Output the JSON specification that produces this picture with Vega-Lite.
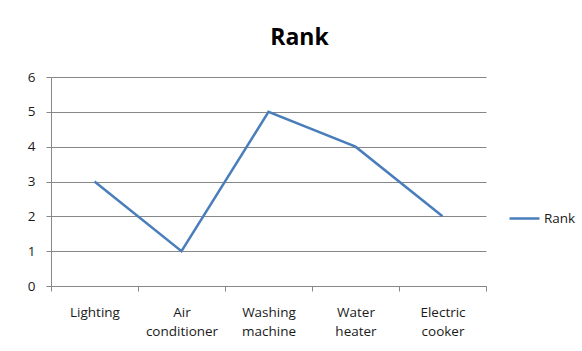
{
  "$schema": "https://vega.github.io/schema/vega-lite/v6.json",
  "width": 435,
  "height": 209,
  "autosize": {"type": "none"},
  "padding": {"left": 51, "top": 77, "right": 96, "bottom": 65},
  "background": "white",
  "title": {
    "text": "Rank",
    "anchor": "middle",
    "frame": "group",
    "dx": 31,
    "offset": 20,
    "font": "Open Sans",
    "fontSize": 23,
    "fontWeight": "bold",
    "color": "#000000"
  },
  "data": {
    "values": [
      {"appliance": "Lighting", "rank": 3},
      {"appliance": "Air conditioner", "rank": 1},
      {"appliance": "Washing machine", "rank": 5},
      {"appliance": "Water heater", "rank": 4},
      {"appliance": "Electric cooker", "rank": 2}
    ]
  },
  "mark": {"type": "line", "strokeWidth": 2.5, "strokeCap": "butt", "strokeJoin": "miter"},
  "encoding": {
    "x": {
      "field": "appliance",
      "type": "nominal",
      "sort": null,
      "scale": {"type": "band", "paddingInner": 0, "paddingOuter": 0},
      "axis": {
        "title": null,
        "labelAngle": 0,
        "labelExpr": "split(datum.label, ' ')",
        "labelLineHeight": 19,
        "labelPadding": 14,
        "labelFont": "Open Sans",
        "labelFontSize": 13.5,
        "labelColor": "#1a1a1a",
        "tickBand": "extent",
        "tickSize": 5,
        "tickColor": "#878787",
        "domainColor": "#878787",
        "grid": false
      }
    },
    "y": {
      "field": "rank",
      "type": "quantitative",
      "scale": {"domain": [0, 6], "nice": false},
      "axis": {
        "title": null,
        "values": [0, 1, 2, 3, 4, 5, 6],
        "tickSize": 5,
        "labelPadding": 11,
        "labelFont": "Open Sans",
        "labelFontSize": 13.5,
        "labelColor": "#1a1a1a",
        "tickColor": "#878787",
        "domainColor": "#878787",
        "gridColor": "#878787",
        "grid": true
      }
    },
    "color": {
      "datum": "Rank",
      "scale": {"range": ["#4A7EBB"]},
      "legend": {
        "title": null,
        "orient": "none",
        "legendX": 457,
        "legendY": 125,
        "symbolType": "stroke",
        "symbolSize": 900,
        "symbolStrokeWidth": 2.5,
        "labelFont": "Open Sans",
        "labelFontSize": 13.5,
        "labelColor": "#1a1a1a",
        "labelOffset": 3
      }
    }
  },
  "config": {"view": {"stroke": null}}
}
